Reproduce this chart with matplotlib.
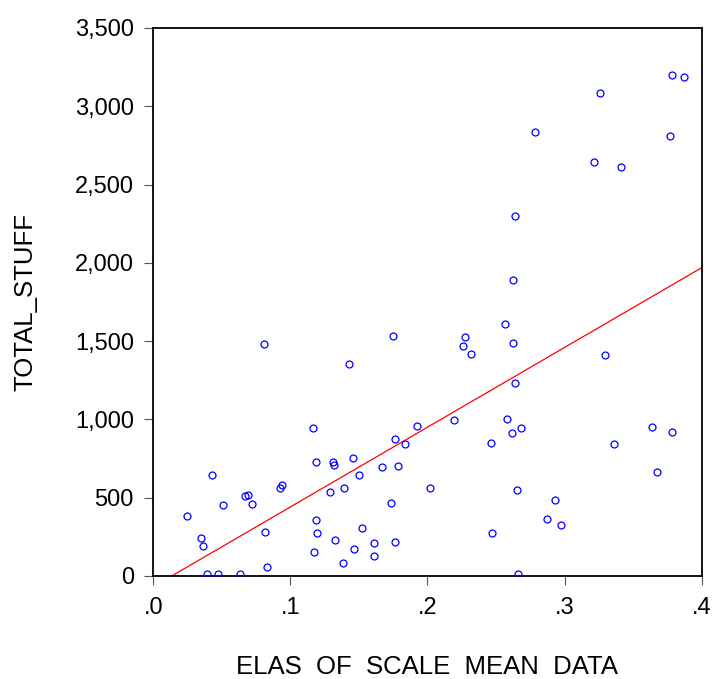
import numpy as np
import matplotlib
matplotlib.use("Agg")
import matplotlib.pyplot as plt
from matplotlib.ticker import FuncFormatter

plt.rcParams['font.family'] = ['Liberation Sans', 'DejaVu Sans']

elas = [0.0249, 0.0347, 0.0366, 0.0393, 0.0427, 0.0473, 0.0507, 0.0633, 0.0669, 0.0693,
        0.0722, 0.0805, 0.0815, 0.0827, 0.0921, 0.0938, 0.1164, 0.1176, 0.1185, 0.1188,
        0.1195, 0.1290, 0.1309, 0.1319, 0.1329, 0.1382, 0.1391, 0.1425, 0.1460, 0.1462,
        0.1503, 0.1525, 0.1612, 0.1612, 0.1668, 0.1733, 0.1750, 0.1760, 0.1765, 0.1787,
        0.1838, 0.1922, 0.2019, 0.2194, 0.2257, 0.2274, 0.2315, 0.2465, 0.2473, 0.2567,
        0.2584, 0.2618, 0.2623, 0.2623, 0.2638, 0.2642, 0.2650, 0.2664, 0.2686, 0.2783,
        0.2873, 0.2933, 0.2975, 0.3212, 0.3258, 0.3297, 0.3358, 0.3411, 0.3637, 0.3673,
        0.3770, 0.3787, 0.3787, 0.3869]
total_stuff = [386, 241, 192, 11, 648, 11, 456, 11, 508, 520,
               459, 1483, 282, 60, 563, 580, 945, 154, 730, 360,
               277, 538, 731, 708, 228, 83, 563, 1352, 753, 175,
               648, 307, 209, 130, 693, 467, 1532, 875, 216, 702,
               845, 956, 565, 996, 1466, 1528, 1419, 851, 273, 1611,
               1003, 915, 1491, 1890, 1233, 2300, 550, 11, 945, 2833,
               365, 488, 328, 2643, 3083, 1412, 843, 2609, 954, 666,
               2810, 922, 3200, 3187]

x_ticks = [0.0, 0.1, 0.2, 0.3, 0.4]
y_ticks = [0, 500, 1000, 1500, 2000, 2500, 3000, 3500]

fig = plt.figure(figsize=(7.13, 6.79), dpi=100)
ax = fig.add_axes([0.215, 0.1517, 0.769, 0.8071])

x = np.array(elas)
y = np.array(total_stuff)
ax.plot(x, y, linestyle='none', marker='o', markersize=5, markerfacecolor='none',
        markeredgecolor='#0000ff', markeredgewidth=0.9, zorder=3)

# least-squares fit line
slope, intercept = np.polyfit(x, y, 1)
xs = np.array([0.0, 0.4])
ax.plot(xs, intercept + slope * xs, color='#ff0000', linewidth=0.9, zorder=2)

ax.set_xlim(0.0, 0.4)
ax.set_ylim(0, 3500)
ax.set_xticks(x_ticks)
ax.set_yticks(y_ticks)
ax.xaxis.set_major_formatter(FuncFormatter(lambda v, p: ('%.1f' % v).lstrip('0')))
ax.yaxis.set_major_formatter(FuncFormatter(lambda v, p: '{:,.0f}'.format(v)))

for s in ax.spines.values():
    s.set_linewidth(1.3)
    s.set_color('black')
ax.tick_params(direction='out', length=6.5, width=0.8, color='#555555', labelsize=17)
ax.tick_params(axis='x', pad=8.5)
ax.tick_params(axis='y', pad=7.5)

ax.set_xlabel('ELAS  OF  SCALE  MEAN  DATA', fontsize=18.5, va='center')
ax.set_ylabel('TOTAL_STUFF', fontsize=18.5, va='center')
ax.xaxis.set_label_coords(0.5, -0.166)
ax.yaxis.set_label_coords(-0.234, 0.5)

fig.savefig('out.png', dpi=100)
